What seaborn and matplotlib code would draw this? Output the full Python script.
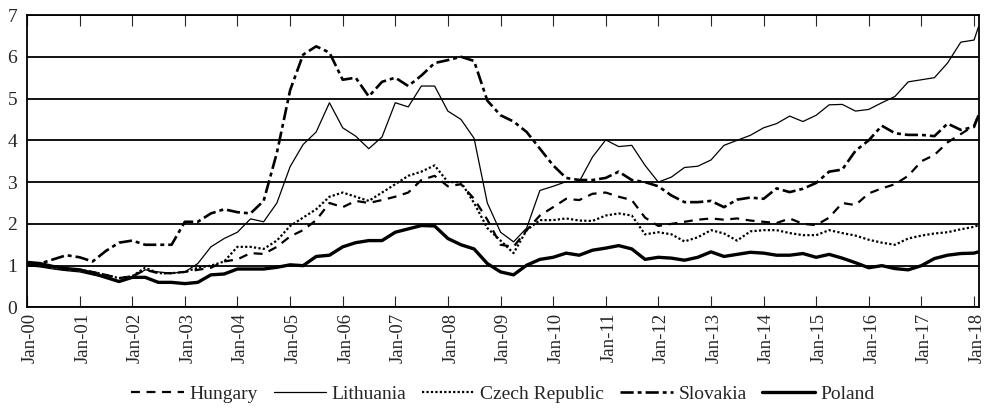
import matplotlib
matplotlib.use("Agg")
import matplotlib.pyplot as plt
import matplotlib.dates as mdates
import matplotlib.transforms as mtransforms
import pandas as pd
import seaborn as sns

# quarterly readings Jan-00 .. Jan-18, plus Feb-18
dates = list(pd.date_range("2000-01-01", "2018-01-01", freq="QS")) + [pd.Timestamp("2018-02-01")]

hungary = [1.0, 1.0, 0.95, 0.9, 0.9, 0.85, 0.78, 0.7, 0.75, 0.9, 0.82, 0.82,
           0.85, 0.9, 0.95, 1.1, 1.15, 1.3, 1.28, 1.45, 1.7, 1.85, 2.09, 2.5,
           2.4, 2.55, 2.5, 2.57, 2.65, 2.75, 3.05, 3.15, 2.9, 2.95, 2.6, 2.1,
           1.5, 1.45, 1.85, 2.2, 2.4, 2.6, 2.57, 2.72, 2.75, 2.65, 2.57, 2.15,
           1.95, 2.0, 2.05, 2.1, 2.13, 2.1, 2.13, 2.08, 2.05, 2.02, 2.13, 2.0,
           1.97, 2.15, 2.5, 2.45, 2.73, 2.85, 2.95, 3.15, 3.5, 3.65, 3.95, 4.15,
           4.35, 4.6]
lithuania = [1.0, 0.97, 0.92, 0.88, 0.85, 0.78, 0.72, 0.62, 0.72, 0.9, 0.85, 0.82,
             0.85, 1.05, 1.45, 1.65, 1.8, 2.12, 2.05, 2.5, 3.37, 3.9, 4.2, 4.9,
             4.3, 4.1, 3.8, 4.08, 4.9, 4.8, 5.3, 5.3, 4.7, 4.5, 4.05, 2.5,
             1.8, 1.57, 1.9, 2.8, 2.9, 3.01, 3.01, 3.6, 4.01, 3.85, 3.88, 3.4,
             3.0, 3.12, 3.35, 3.38, 3.53, 3.88, 4.0, 4.12, 4.3, 4.4, 4.58, 4.45,
             4.6, 4.85, 4.86, 4.7, 4.74, 4.9, 5.05, 5.4, 5.45, 5.5, 5.85, 6.35,
             6.4, 6.72]
czech = [1.0, 1.0, 0.95, 0.9, 0.9, 0.85, 0.78, 0.7, 0.75, 0.95, 0.82, 0.82,
         0.85, 0.95, 1.0, 1.1, 1.45, 1.45, 1.4, 1.6, 1.95, 2.15, 2.35, 2.65,
         2.75, 2.65, 2.55, 2.75, 2.95, 3.15, 3.25, 3.4, 3.0, 3.0, 2.5, 1.9,
         1.6, 1.3, 1.85, 2.09, 2.09, 2.13, 2.08, 2.07, 2.2, 2.25, 2.2, 1.75,
         1.8, 1.75, 1.58, 1.68, 1.85, 1.77, 1.6, 1.82, 1.85, 1.85, 1.78, 1.73,
         1.73, 1.85, 1.78, 1.72, 1.62, 1.55, 1.5, 1.65, 1.72, 1.77, 1.8, 1.87,
         1.93, 1.97]
slovakia = [1.0, 1.05, 1.15, 1.25, 1.2, 1.1, 1.35, 1.55, 1.6, 1.5, 1.5, 1.5,
            2.05, 2.05, 2.25, 2.35, 2.28, 2.25, 2.55, 3.7, 5.2, 6.05, 6.25, 6.1,
            5.45, 5.5, 5.05, 5.4, 5.5, 5.3, 5.55, 5.85, 5.92, 6.0, 5.9, 4.95,
            4.6, 4.45, 4.2, 3.8, 3.4, 3.1, 3.05, 3.05, 3.1, 3.25, 3.05, 3.0,
            2.9, 2.68, 2.52, 2.52, 2.55, 2.4, 2.58, 2.63, 2.6, 2.85, 2.76, 2.84,
            2.98, 3.25, 3.3, 3.75, 4.0, 4.35, 4.17, 4.13, 4.13, 4.1, 4.4, 4.25,
            4.32, 4.6]
poland = [1.08, 1.05, 0.98, 0.93, 0.9, 0.82, 0.72, 0.62, 0.72, 0.72, 0.6, 0.6,
          0.57, 0.6, 0.78, 0.8, 0.92, 0.92, 0.92, 0.96, 1.02, 1.0, 1.22, 1.25,
          1.45, 1.55, 1.6, 1.6, 1.8, 1.88, 1.96, 1.95, 1.65, 1.5, 1.4, 1.05,
          0.85, 0.78, 1.01, 1.15, 1.2, 1.3, 1.25, 1.37, 1.42, 1.48, 1.4, 1.15,
          1.2, 1.18, 1.13, 1.2, 1.33, 1.22, 1.27, 1.32, 1.3, 1.25, 1.25, 1.29,
          1.2, 1.27, 1.18, 1.07, 0.95, 1.0, 0.93, 0.9, 1.0, 1.17, 1.25, 1.29,
          1.3, 1.33]

series = {
    "Hungary": (hungary, (0, (4, 3)), 1.6),
    "Lithuania": (lithuania, "-", 0.9),
    "Czech Republic": (czech, (0, (1, 1)), 1.6),
    "Slovakia": (slovakia, (0, (5, 1.5, 1.5, 1.5)), 1.9),
    "Poland": (poland, "-", 2.4),
}

sns.set_style("white")
plt.rcParams["font.family"] = ["Liberation Serif", "DejaVu Serif"]

fig = plt.figure(figsize=(9.84, 4.11), dpi=100)
ax = fig.add_axes([0.0274, 0.252, 0.9676, 0.7115])

for name, (vals, ls, lw) in series.items():
    sns.lineplot(x=dates, y=vals, ax=ax, color="black", linestyle=ls, linewidth=lw, label=name)

ax.set_ylim(0, 7)
ax.set_yticks(range(0, 8))
ax.set_xlim(pd.Timestamp("2000-01-01"), pd.Timestamp("2018-02-05"))
ax.xaxis.set_major_locator(mdates.YearLocator(1, month=1, day=1))
ax.xaxis.set_major_formatter(mdates.DateFormatter("%b-%y"))
ax.grid(axis="y", color="black", linewidth=1.3)
ax.grid(axis="x", visible=False)
for s in ax.spines.values():
    s.set_color("black")
    s.set_linewidth(1.3)
ax.tick_params(axis="x", direction="in", length=8, width=0.8, top=True, bottom=True,
               labelsize=13.5, rotation=90, pad=4)
ax.tick_params(axis="y", length=0, labelsize=14, pad=7)
ax.set_xlabel("")
ax.set_ylabel("")

# nudge x labels slightly right, as in the original
shift = mtransforms.ScaledTranslation(3 / 100, 0, fig.dpi_scale_trans)
for lab in ax.get_xticklabels():
    lab.set_transform(lab.get_transform() + shift)

ax.legend(loc="lower center", bbox_to_anchor=(0.5, -0.385), ncol=5, frameon=False,
          fontsize=14, handlelength=2.7, handletextpad=0.3, columnspacing=0.8)

fig.savefig("out.png", dpi=100)
